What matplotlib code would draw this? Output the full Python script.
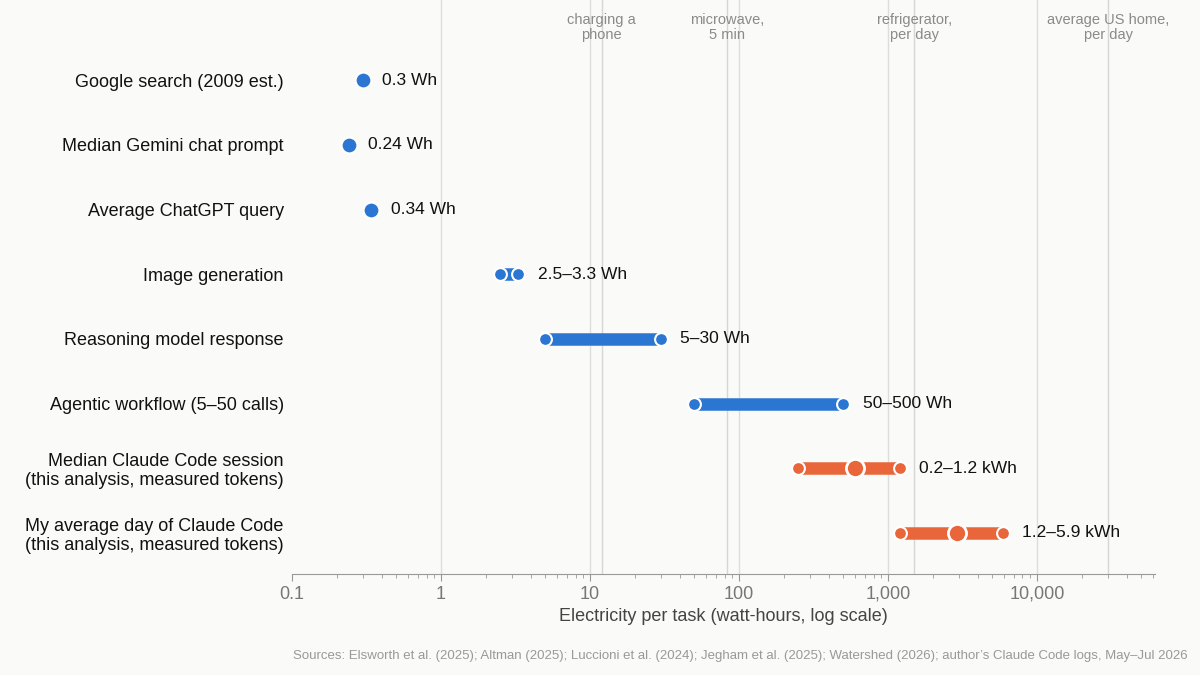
import matplotlib.pyplot as plt
import matplotlib.ticker as mticker

tasks = ["Google search (2009 est.)", "Median Gemini chat prompt", "Average ChatGPT query",
         "Image generation", "Reasoning model response", "Agentic workflow (5\u201350 calls)",
         "Median Claude Code session\n(this analysis, measured tokens)",
         "My average day of Claude Code\n(this analysis, measured tokens)"]
low = [0.3, 0.24, 0.34, 2.5, 5, 50, 250, 1200]
high = [0.3, 0.24, 0.34, 3.3, 30, 500, 1200, 5900]
mid = [None, None, None, None, None, None, 600, 2900]
labels = ["0.3 Wh", "0.24 Wh", "0.34 Wh", "2.5\u20133.3 Wh", "5\u201330 Wh", "50\u2013500 Wh",
          "0.2\u20131.2 kWh", "1.2\u20135.9 kWh"]
ours = [False] * 6 + [True, True]

ref_vals = [12, 83, 1500, 30000]
ref_names = ["charging a\nphone", "microwave,\n5 min", "refrigerator,\nper day", "average US home,\nper day"]

BLUE = "#2a76d2"
ORANGE = "#e8663a"
BG = "#fafaf8"

plt.rcParams.update({"font.family": ["Liberation Sans", "DejaVu Sans"], "font.size": 12})
fig = plt.figure(figsize=(12, 6.75), dpi=100, facecolor=BG)
ax = fig.add_axes([0.2433, 0.15, 0.7192, 0.85], facecolor=BG)
ax.set_xscale("log")
ax.set_xlim(0.1, 62000)
ax.set_ylim(7.63, -1.24)

for v in [1, 10, 100, 1000, 10000]:
    ax.axvline(v, color="#dddddd", lw=1, zorder=0)
for v, name in zip(ref_vals, ref_names):
    ax.axvline(v, color="#d6d6d6", lw=1, zorder=0)
    ax.text(v, -0.82, name, ha="center", va="center", color="#8a8a8a", fontsize=10.5, linespacing=1.1)

for i in range(len(tasks)):
    c = ORANGE if ours[i] else BLUE
    if high[i] != low[i]:
        ax.plot([low[i], high[i]], [i, i], color=c, lw=9, solid_capstyle="butt", zorder=2)
        ax.scatter([low[i], high[i]], [i, i], s=85, color=c, edgecolor="white", linewidth=1.5, zorder=3)
    else:
        ax.scatter([low[i]], [i], s=130, color=c, edgecolor="white", linewidth=1.5, zorder=3)
    if mid[i]:
        ax.scatter([mid[i]], [i], s=170, color=c, edgecolor="white", linewidth=2, zorder=4)
    ax.annotate(labels[i], (high[i], i), xytext=(14, 0), textcoords="offset points",
                va="center", ha="left", fontsize=12.5, color="#111111")

ax.set_yticks(range(len(tasks)))
ax.set_yticklabels(tasks, fontsize=13, color="#111111", linespacing=1.15)
ax.tick_params(axis="y", length=0, pad=6)
ax.xaxis.set_major_formatter(mticker.FuncFormatter(lambda v, p: f"{v:,.0f}" if v >= 1 else f"{v:g}"))
ax.tick_params(axis="x", which="major", colors="#999999", labelcolor="#777777", labelsize=13, length=5)
ax.tick_params(axis="x", which="minor", colors="#999999", length=3)
for s in ["top", "right", "left"]:
    ax.spines[s].set_visible(False)
ax.spines["bottom"].set_color("#999999")
ax.set_xlabel("Electricity per task (watt-hours, log scale)", fontsize=13, color="#444444", labelpad=4)

fig.text(0.99, 0.02, "Sources: Elsworth et al. (2025); Altman (2025); Luccioni et al. (2024); Jegham et al. (2025); "
         "Watershed (2026); author\u2019s Claude Code logs, May\u2013Jul 2026",
         ha="right", va="bottom", fontsize=9.5, color="#999999")

fig.savefig("out.png", dpi=100, facecolor=BG)
